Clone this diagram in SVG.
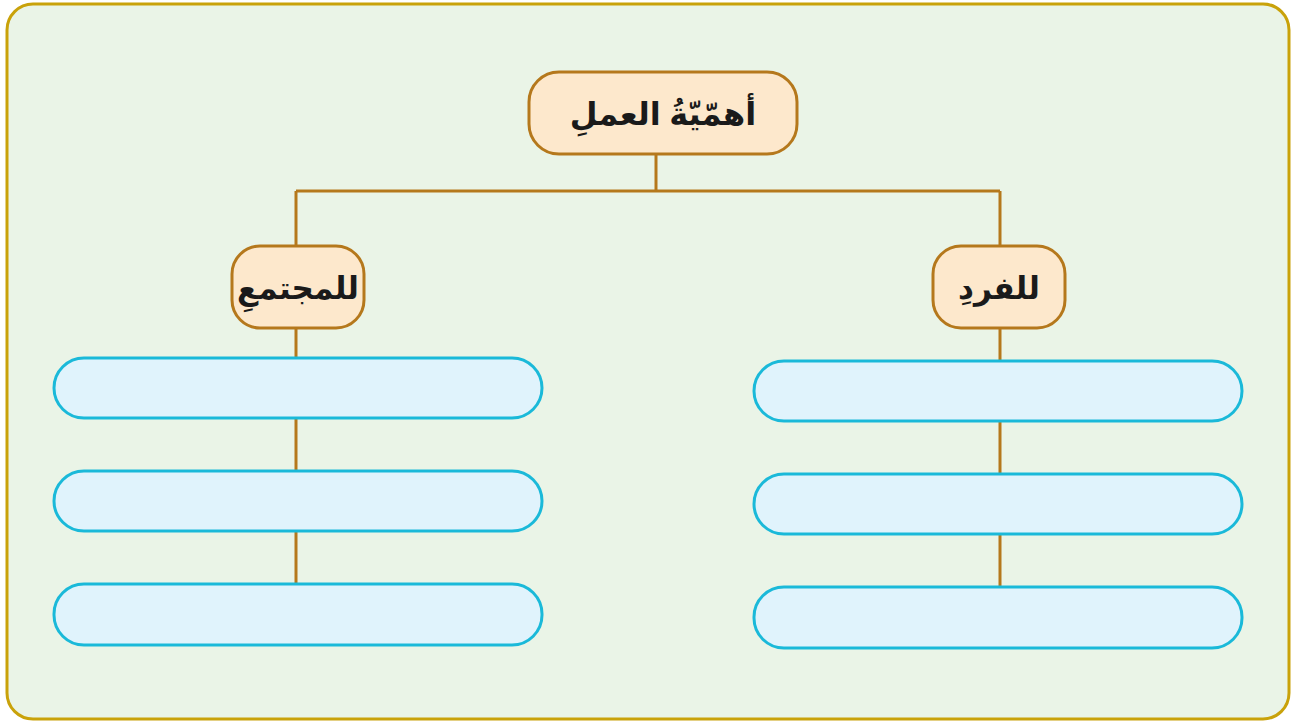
<svg xmlns="http://www.w3.org/2000/svg" width="1292" height="721" viewBox="0 0 1292 721">
<style>
.frame{fill:#eaf4e7;stroke:#c9a20a;stroke-width:3}
.head{fill:#fde8cc;stroke:#b5781c;stroke-width:3}
.box{fill:#e0f3fc;stroke:#1ab9d9;stroke-width:3}
.conn{stroke:#b5781c;stroke-width:3;fill:none}
.t{font-family:"Noto Sans","DejaVu Sans",sans-serif;font-weight:bold;fill:#1a1a1a;text-anchor:middle}
</style>
<rect class="frame" x="7" y="4" width="1282" height="715" rx="26"/>
<g id="connectors">
<path class="conn" d="M656 154V191M296 191H1000M296 191V246M1000 191V246"/>
<path class="conn" d="M296 328V358M296 418V471M296 531V584"/>
<path class="conn" d="M1000 328V361M1000 421V474M1000 534V587"/>
</g>
<g id="root">
<rect class="head" x="529" y="72" width="268" height="82" rx="30"/>
<text class="t" x="663" y="125" font-size="32" direction="rtl">أهمّيّةُ العملِ</text>
</g>
<g id="society">
<rect class="head" x="232" y="246" width="132" height="82" rx="28"/>
<text class="t" x="298" y="299" font-size="31" direction="rtl">للمجتمعِ</text>
</g>
<g id="individual">
<rect class="head" x="933" y="246" width="132" height="82" rx="28"/>
<text class="t" x="999" y="299" font-size="31" direction="rtl">للفردِ</text>
</g>
<g id="s1"><rect class="box" x="54" y="358" width="488" height="60" rx="30"/></g>
<g id="s2"><rect class="box" x="54" y="471" width="488" height="60" rx="30"/></g>
<g id="s3"><rect class="box" x="54" y="584" width="488" height="61" rx="30"/></g>
<g id="i1"><rect class="box" x="754" y="361" width="488" height="60" rx="30"/></g>
<g id="i2"><rect class="box" x="754" y="474" width="488" height="60" rx="30"/></g>
<g id="i3"><rect class="box" x="754" y="587" width="488" height="61" rx="30"/></g>
</svg>
